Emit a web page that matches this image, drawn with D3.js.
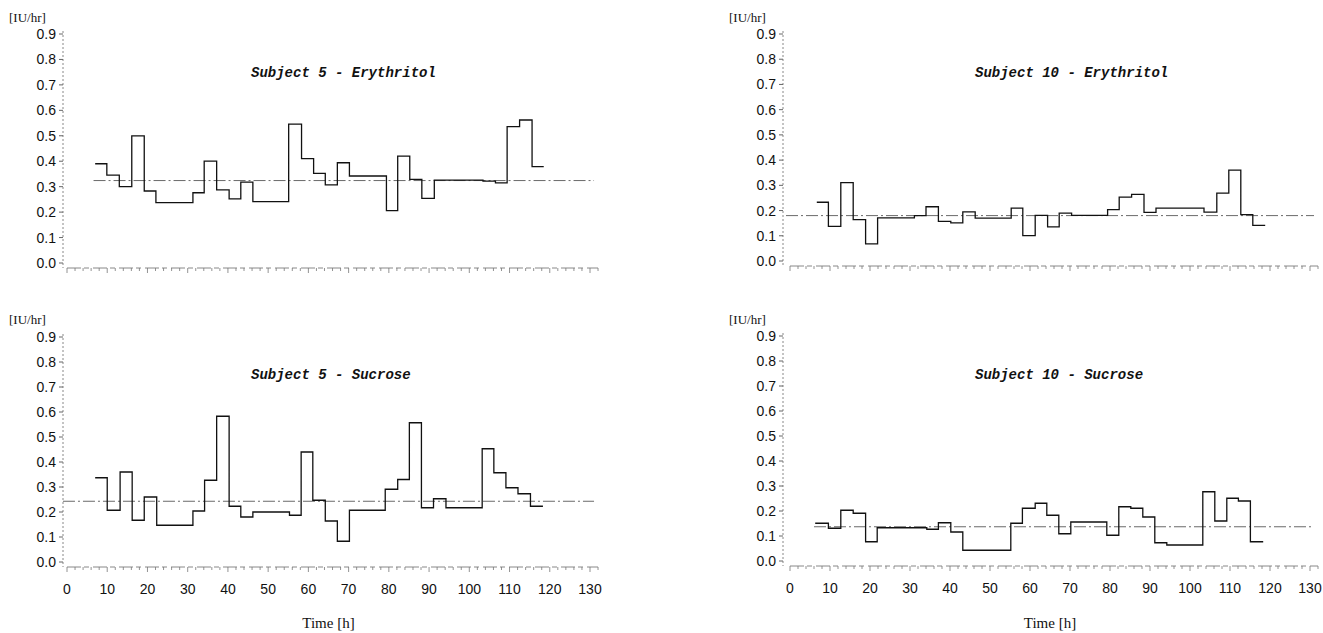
<!DOCTYPE html>
<html>
<head>
<meta charset="utf-8">
<script src="https://cdn.jsdelivr.net/npm/d3@7"></script>
<style>
  body { margin: 0; background: #fff; }
  .tick-label { font-family: "Liberation Sans", Arial, sans-serif; font-size: 14px; fill: #111; }
  .unit { font-family: "Liberation Serif", "Times New Roman", serif; font-size: 13px; fill: #111; }
  .title { font-family: "Liberation Mono", "Courier New", monospace; font-size: 14px; font-weight: bold; font-style: italic; fill: #111; }
</style>
</head>
<body>
<svg id="chart" width="1323" height="633"></svg>
<script>
// ---------------------
// step data: sampling times [h] and rate [IU/hr] per interval
// ---------------------

var s5eryTimes  = [7, 9.9, 13, 16.1, 19.2, 22.1, 31.3, 34.1, 37.2, 40.3, 43.2, 46.2, 55.1, 58.3, 61.3, 64.2, 67.2, 70.2, 79.4, 82.2, 85.2, 88.2, 91.3, 103.4, 106.5, 109.4, 112.5, 115.6, 118.5];
var s5eryValues = [0.39, 0.345, 0.30, 0.50, 0.283, 0.237, 0.276, 0.40, 0.287, 0.252, 0.318, 0.241, 0.546, 0.41, 0.352, 0.307, 0.394, 0.342, 0.206, 0.42, 0.329, 0.254, 0.326, 0.322, 0.315, 0.536, 0.562, 0.379];
var s5eryMean   = 0.324;

var s5sucTimes  = [7, 10, 13.2, 16.2, 19.2, 22.3, 31.3, 34.2, 37.2, 40.3, 43.2, 46.2, 55.3, 58.2, 61.1, 64.2, 67.2, 70.2, 79.1, 82.2, 85.1, 88.1, 91.1, 94.2, 103.2, 106.1, 109.1, 112.1, 115.2, 118.3];
var s5sucValues = [0.337, 0.207, 0.36, 0.167, 0.26, 0.147, 0.204, 0.327, 0.583, 0.223, 0.18, 0.20, 0.187, 0.44, 0.247, 0.164, 0.083, 0.207, 0.291, 0.33, 0.557, 0.217, 0.253, 0.217, 0.453, 0.357, 0.297, 0.273, 0.223];
var s5sucMean   = 0.243;

var s10eryTimes  = [6.7, 9.6, 12.7, 15.8, 18.9, 21.9, 31.1, 34, 37.1, 40.2, 43.2, 46.3, 55.3, 58.2, 61.3, 64.4, 67.3, 70.4, 79.4, 82.3, 85.4, 88.5, 91.5, 103.5, 106.7, 109.7, 112.7, 115.7, 118.8];
var s10eryValues = [0.233, 0.137, 0.311, 0.164, 0.068, 0.171, 0.18, 0.215, 0.157, 0.151, 0.195, 0.17, 0.21, 0.101, 0.181, 0.135, 0.19, 0.181, 0.204, 0.253, 0.264, 0.193, 0.21, 0.194, 0.269, 0.36, 0.184, 0.141];
var s10eryMean   = 0.18;

var s10sucTimes  = [6.3, 9.6, 12.7, 15.8, 18.9, 21.8, 34.2, 37.1, 40.2, 43.2, 55.2, 58.1, 61.3, 64.2, 67.2, 70.2, 79.2, 82.2, 85.2, 88.2, 91.2, 94.2, 103.2, 106.2, 109.2, 112.1, 115.1, 118.3];
var s10sucValues = [0.151, 0.131, 0.203, 0.191, 0.077, 0.133, 0.127, 0.153, 0.116, 0.043, 0.151, 0.211, 0.231, 0.183, 0.109, 0.156, 0.103, 0.217, 0.211, 0.176, 0.073, 0.064, 0.277, 0.16, 0.251, 0.24, 0.077];
var s10sucMean   = 0.137;

var yTicks = [0, 0.1, 0.2, 0.3, 0.4, 0.5, 0.6, 0.7, 0.8, 0.9];
var xTicks = [0, 10, 20, 30, 40, 50, 60, 70, 80, 90, 100, 110, 120, 130];

// panel layout
var panels = [
  { title: "Subject 5 - Erythritol",  times: s5eryTimes,  values: s5eryValues,  mean: s5eryMean,  meanStart: 6.6,
    xr: [67, 590],  yr: [263, 34],  axisX: 63,  titleX: 251, titleY: 77,  unitX: 9,  unitY: 22,  labels: false },
  { title: "Subject 10 - Erythritol", times: s10eryTimes, values: s10eryValues, mean: s10eryMean, meanStart: -1,
    xr: [790, 1310], yr: [261, 34], axisX: 783, titleX: 975, titleY: 77, unitX: 729, unitY: 22, labels: false },
  { title: "Subject 5 - Sucrose",     times: s5sucTimes,  values: s5sucValues,  mean: s5sucMean,  meanStart: -1,
    xr: [67, 590],  yr: [562, 337], axisX: 63,  titleX: 251, titleY: 379, unitX: 9,  unitY: 324, labels: true },
  { title: "Subject 10 - Sucrose",    times: s10sucTimes, values: s10sucValues, mean: s10sucMean, meanStart: 6,
    xr: [790, 1310], yr: [561, 336], axisX: 783, titleX: 975, titleY: 379, unitX: 729, unitY: 324, labels: true }
];

var svg = d3.select("#chart");

panels.forEach(function (p) {
  var x = d3.scaleLinear().domain([0, 130]).range(p.xr),
      y = d3.scaleLinear().domain([0, 0.9]).range(p.yr),
      g = svg.append("g");

  var base = y(0) + 5;

  // y axis (faint, dotted as in the print)
  g.append("line")
      .attr("x1", p.axisX).attr("x2", p.axisX)
      .attr("y1", y(0.9) - 3).attr("y2", base)
      .attr("stroke", "#888").attr("stroke-width", 1)
      .attr("stroke-dasharray", "2,2");

  g.selectAll(".ytick")
    .data(yTicks)
    .enter().append("line")
      .attr("x1", p.axisX - 4).attr("x2", p.axisX)
      .attr("y1", d => y(d)).attr("y2", d => y(d))
      .attr("stroke", "#666");

  g.selectAll(".ylab")
    .data(yTicks)
    .enter().append("text")
      .attr("class", "tick-label")
      .attr("x", p.axisX - 7)
      .attr("y", d => y(d) + 5)
      .attr("text-anchor", "end")
      .text(d => d3.format(".1f")(d));

  // x axis line with minor ticks every 2 h
  g.append("line")
      .attr("x1", x(0)).attr("x2", x(132))
      .attr("y1", base).attr("y2", base)
      .attr("stroke", "#888").attr("stroke-width", 1)
      .attr("stroke-dasharray", "14,3,5,4");

  g.selectAll(".xminor")
    .data(d3.range(0, 133, 2))
    .enter().append("line")
      .attr("x1", d => x(d)).attr("x2", d => x(d))
      .attr("y1", base).attr("y2", d => base + (d % 10 === 0 ? 5 : 3))
      .attr("stroke", "#777").attr("stroke-width", 0.8);

  if (p.labels) {
    g.selectAll(".xlab")
      .data(xTicks)
      .enter().append("text")
        .attr("class", "tick-label")
        .attr("x", d => x(d))
        .attr("y", base + 27)
        .attr("text-anchor", "middle")
        .text(d => d);

    g.append("text")
        .attr("class", "unit")
        .style("font-size", "15px")
        .attr("x", (p.xr[0] + p.xr[1]) / 2)
        .attr("y", 628)
        .attr("text-anchor", "middle")
        .text("Time [h]");
  }

  g.append("text")
      .attr("class", "unit")
      .attr("x", p.unitX)
      .attr("y", p.unitY)
      .text("[IU/hr]");

  g.append("text")
      .attr("class", "title")
      .attr("x", p.titleX)
      .attr("y", p.titleY)
      .text(p.title);

  // mean line, dash-dot
  g.append("line")
      .attr("x1", x(p.meanStart)).attr("x2", x(131))
      .attr("y1", y(p.mean)).attr("y2", y(p.mean))
      .attr("stroke", "#444").attr("stroke-width", 0.8)
      .attr("stroke-dasharray", "12,3,2,3");

  // step curve
  var pts = p.times.map((t, i) => [t, p.values[Math.min(i, p.values.length - 1)]]);
  var step = d3.line()
      .x(d => x(d[0]))
      .y(d => y(d[1]))
      .curve(d3.curveStepAfter);

  g.append("path")
      .datum(pts)
      .attr("d", step)
      .attr("fill", "none")
      .attr("stroke", "#111")
      .attr("stroke-width", 1.3);
});
</script>
</body>
</html>
